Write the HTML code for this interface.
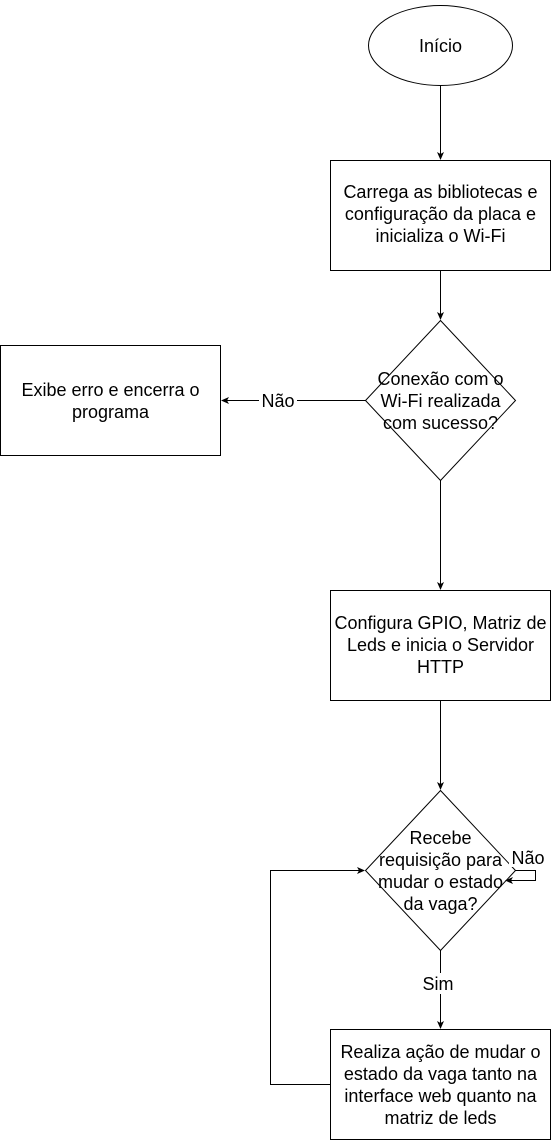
<!DOCTYPE html>
<html><head><meta charset="utf-8"><style>
body{margin:0;background:#fff}
svg{display:block}
text{font-family:"Liberation Sans",sans-serif;font-size:18px;fill:#000}
</style></head><body>
<svg width="551" height="1140" viewBox="0 0 551 1140">
<defs><marker id="a" markerWidth="8" markerHeight="8" refX="7" refY="4" orient="auto" markerUnits="userSpaceOnUse"><path d="M0,0.5 L8,4 L0,7.5 L2,4 Z" fill="#000"/></marker></defs>
<g fill="#fff" stroke="#000" stroke-width="1">
<ellipse cx="440.5" cy="45.5" rx="72" ry="40"/>
<rect x="330.5" y="160.5" width="220" height="110"/>
<polygon points="440.5,320.5 515.5,400.5 440.5,480.5 365.5,400.5"/>
<rect x="0.5" y="345.5" width="220" height="110"/>
<rect x="330.5" y="590.5" width="220" height="110"/>
<polygon points="440.5,790.5 515.5,870.5 440.5,950.5 365.5,870.5"/>
<rect x="330.5" y="1029.5" width="220" height="110"/>
</g>
<g stroke="#000" fill="none" marker-end="url(#a)">
<line x1="440.5" y1="85.5" x2="440.5" y2="159"/>
<line x1="440.5" y1="270.5" x2="440.5" y2="319"/>
<line x1="365.5" y1="400.5" x2="222" y2="400.5"/>
<line x1="440.5" y1="480.5" x2="440.5" y2="589"/>
<line x1="440.5" y1="700.5" x2="440.5" y2="789"/>
<line x1="440.5" y1="950.5" x2="440.5" y2="1028"/>
<polyline points="515.5,870.5 535.5,870.5 535.5,880.5 506,880.5"/>
<polyline points="330.5,1084.5 270.5,1084.5 270.5,870.5 364,870.5"/>
</g>
<rect x="259" y="390" width="38" height="21" fill="#fff"/>
<text x="278" y="407" text-anchor="middle">Não</text>
<rect x="509" y="848" width="38" height="19" fill="#fff"/>
<text x="528" y="864" text-anchor="middle">Não</text>
<rect x="420" y="973" width="38" height="21" fill="#fff"/>
<text x="438" y="990" text-anchor="middle">Sim</text>
<g text-anchor="middle">
<text x="440.5" y="52">Início</text>
<text x="440.5" y="198">Carrega as bibliotecas e</text>
<text x="440.5" y="220">configuração da placa e</text>
<text x="440.5" y="242">inicializa o Wi-Fi</text>
<text x="440.5" y="385">Conexão com o</text>
<text x="440.5" y="407">Wi-Fi realizada</text>
<text x="440.5" y="429">com sucesso?</text>
<text x="110.5" y="396">Exibe erro e encerra o</text>
<text x="110.5" y="418">programa</text>
<text x="440.5" y="629">Configura GPIO, Matriz de</text>
<text x="440.5" y="651">Leds e inicia o Servidor</text>
<text x="440.5" y="673">HTTP</text>
<text x="440.5" y="844">Recebe</text>
<text x="440.5" y="866">requisição para</text>
<text x="440.5" y="888">mudar o estado</text>
<text x="440.5" y="910">da vaga?</text>
<text x="440.5" y="1058">Realiza ação de mudar o</text>
<text x="440.5" y="1080">estado da vaga tanto na</text>
<text x="440.5" y="1102">interface web quanto na</text>
<text x="440.5" y="1124">matriz de leds</text>
</g>
</svg>
</body></html>
